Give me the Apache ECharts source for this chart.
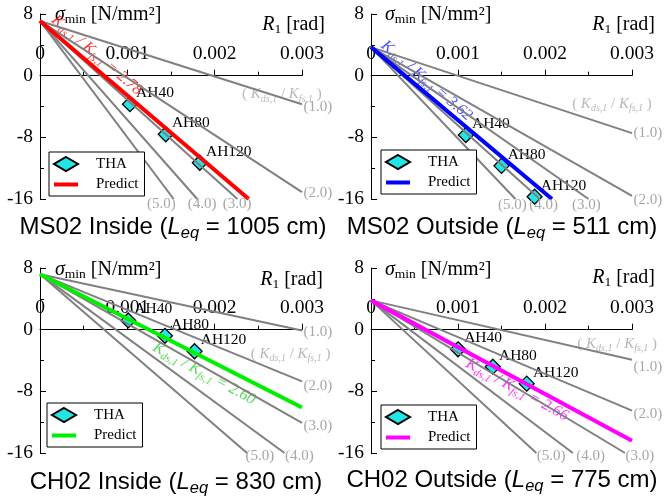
<!DOCTYPE html>
<html>
<head>
<meta charset="utf-8">
<script src="https://cdn.jsdelivr.net/npm/echarts@6/dist/echarts.min.js"></script>
<style>
  html, body { margin: 0; padding: 0; background: #fff; }
  #chart { width: 665px; height: 497px; }
</style>
</head>
<body>
<div id="chart"></div>
<script>
// ---- data ----
const panelNames = ['MS02 Inside', 'MS02 Outside', 'CH02 Inside', 'CH02 Outside']
const leqCm = [1005, 511, 830, 775]
const xTicks = [0, 0.001, 0.002, 0.003]
const yTicks = [-16, -8, 0, 8]

// stress at R1 = 0 for each panel
const sigmaStart = [7.1, 3.7, 7.2, 3.8]

// reference lines, Kds,1 / Kfs,1 = 1 .. 5, end points [R1, sigma]
const refRatios = ['1.0', '2.0', '3.0', '4.0', '5.0']
const refEnds = [
  [[0.003, -3.7], [0.003, -15.1], [0.00226, -16], [0.0018, -16], [0.00153, -16]],
  [[0.003, -7.45], [0.003, -15.6], [0.0025, -16], [0.00194, -16], [0.00166, -16]],
  [[0.003, -0.1], [0.003, -6.7], [0.003, -12.1], [0.0028, -16], [0.00237, -16]],
  [[0.003, -3.9], [0.003, -10.5], [0.00292, -16], [0.00232, -16], [0.0019, -16]]
]

// predicted line
const predictRatio = ['2.78', '3.62', '2.60', '2.66']
const predictEnd = [[0.00239, -16], [0.00208, -16], [0.003, -10.1], [0.003, -14.4]]

// THA results
const thaNames = ['AH40', 'AH80', 'AH120']
const thaR = [
  [0.00103, 0.00144, 0.00183],
  [0.00109, 0.0015, 0.00188],
  [0.00101, 0.00143, 0.00177],
  [0.001, 0.0014, 0.00179]
]
const thaSigma = [
  [-3.7, -7.6, -11.3],
  [-7.7, -11.7, -15.7],
  [1.2, -0.8, -2.8],
  [-2.55, -4.8, -7.0]
]

// ---- layout / style ----
const serif = '"Liberation Serif", "Times New Roman", serif'
const sans = '"Liberation Sans", Arial, sans-serif'
const grids = [
  { left: 40, top: 14, width: 262, height: 185 },
  { left: 371, top: 14, width: 261, height: 185 },
  { left: 40, top: 268, width: 262, height: 185 },
  { left: 371, top: 268, width: 261, height: 185 }
]
const predictColor = ['#ff0000', '#0000ff', '#00ee00', '#ff00ff']
const predictTextColor = ['#ff0000', '#2020ff', '#33cc33', '#ff00ff']
const legendPos = [[49, 152], [381, 150], [47, 403], [381, 405]]
// label offsets of the (x.x) tags from each line end
const refLabelOffset = [
  [[1, 3], [1, 1], [-15, 5], [-10, 5], [-27, 5]],
  [[1, 0], [1, 4], [-17, 6], [-11, 6], [-18, 6]],
  [[1, 2], [1, 5], [1, 3], [0, 3], [-2, 3]],
  [[1, 7], [1, 3], [0, 3], [3, 3], [0, 3]]
]
// where the rotated formula and the header tag sit (data coords)
const formulaAt = [[0.00065, 2.66], [0.00064, -0.65], [0.00188, -5.7], [0.00168, -7.8]]
const formulaRotate = [-40.6, -40.4, -28.5, -28.5]
const headerAt = [[0.00277, -2.44], [0.00277, -3.68], [0.00287, -3.1], [0.00283, -1.9]]
const titleAt = [[173, 227], [502, 227], [176, 482], [502, 480]]
const sigmaNameAt = [[55, 15], [385, 15], [55, 270], [385, 270]]
const rNameAt = [[325, 25], [655, 25], [323, 280], [655, 278]]

function kRich (size, sub, color) {
  return {
    n: { fontFamily: serif, fontSize: size, color, lineHeight: size + 4 },
    i: { fontFamily: serif, fontStyle: 'italic', fontSize: size, color, lineHeight: size + 4 },
    s: { fontFamily: serif, fontStyle: 'italic', fontSize: sub, color, lineHeight: sub, verticalAlign: 'bottom' }
  }
}

const option = {
  animation: false,
  backgroundColor: '#fff',
  grid: [],
  xAxis: [],
  yAxis: [],
  legend: [],
  series: [],
  graphic: []
}

const yMin = yTicks[0]
const yMax = yTicks[yTicks.length - 1]

for (let p = 0; p < 4; p++) {
  option.grid.push(Object.assign({ containLabel: false }, grids[p]))
  option.xAxis.push({
    gridIndex: p,
    type: 'value',
    min: xTicks[0],
    max: xTicks[xTicks.length - 1],
    interval: xTicks[1] - xTicks[0],
    // move the axis up to sigma = 0 so its labels follow it
    offset: -grids[p].height * (0 - yMin) / (yMax - yMin),
    axisLine: { onZero: false, lineStyle: { color: '#000', width: 1 } },
    axisTick: { inside: true, length: 6, lineStyle: { color: '#000' } },
    minorTick: { show: true, splitNumber: 2, length: 4, lineStyle: { color: '#000' } },
    axisLabel: {
      inside: true,
      margin: 12,
      fontFamily: serif,
      fontSize: 19.5,
      color: '#000',
      showMinLabel: true,
      showMaxLabel: true,
      formatter: v => v === 0 ? '0' : v.toFixed(3)
    },
    splitLine: { show: false }
  })
  option.yAxis.push({
    gridIndex: p,
    type: 'value',
    min: yMin,
    max: yMax,
    interval: yTicks[1] - yTicks[0],
    axisLine: { onZero: false, lineStyle: { color: '#000', width: 1 } },
    axisTick: { inside: true, length: 6, lineStyle: { color: '#000' } },
    minorTick: { show: true, splitNumber: 2, length: 4, lineStyle: { color: '#000' } },
    axisLabel: { margin: 7, fontFamily: serif, fontSize: 19.5, color: '#000' },
    splitLine: { show: false }
  })

  // gray reference lines
  refRatios.forEach((k, j) => {
    option.series.push({
      type: 'line',
      name: 'ref' + p + '_' + k,
      xAxisIndex: p,
      yAxisIndex: p,
      symbol: 'circle',
      symbolSize: 1,
      showSymbol: true,
      silent: true,
      itemStyle: { color: 'rgba(0,0,0,0)' },
      lineStyle: { color: '#808080', width: 2 },
      data: [
        [0, sigmaStart[p]],
        {
          value: refEnds[p][j],
          label: {
            show: true,
            position: 'right',
            distance: 0,
            offset: refLabelOffset[p][j],
            formatter: '(' + k + ')',
            fontFamily: serif,
            fontSize: 15,
            color: '#a6a6a6'
          }
        }
      ]
    })
  })

  // predict line
  option.series.push({
    type: 'line',
    name: 'Predict|' + p,
    xAxisIndex: p,
    yAxisIndex: p,
    symbol: 'none',
    silent: true,
    itemStyle: { color: predictColor[p] },
    lineStyle: { color: predictColor[p], width: 4 },
    data: [[0, sigmaStart[p]], predictEnd[p]]
  })

  // THA points
  option.series.push({
    type: 'scatter',
    name: 'THA|' + p,
    xAxisIndex: p,
    yAxisIndex: p,
    symbol: 'diamond',
    symbolSize: 15,
    silent: true,
    itemStyle: { color: '#22e6e6', borderColor: '#000', borderWidth: 1.3, opacity: 1 },
    label: {
      show: true,
      position: 'right',
      distance: 0,
      offset: [-2, -11],
      formatter: '{b}',
      fontFamily: serif,
      fontSize: 15.5,
      color: '#000'
    },
    data: thaR[p].map((x, i) => ({ value: [x, thaSigma[p][i]], name: thaNames[i] }))
  })

  // formula along the predict line and header tag
  option.series.push({
    type: 'scatter',
    name: 'note' + p,
    xAxisIndex: p,
    yAxisIndex: p,
    symbolSize: 1,
    silent: true,
    itemStyle: { color: 'rgba(0,0,0,0)' },
    data: [
      {
        value: formulaAt[p],
        label: {
          show: true,
          position: 'inside',
          rotate: formulaRotate[p],
          formatter: '{i|K}{s|ds,1}{i| / K}{s|fs,1}{i| = ' + predictRatio[p] + '}',
          rich: kRich(16, 11, predictTextColor[p])
        }
      },
      {
        value: headerAt[p],
        label: {
          show: true,
          position: 'inside',
          formatter: '{n|( }{i|K}{s|ds,1}{n| / }{i|K}{s|fs,1}{n| )}',
          rich: kRich(15, 10, '#a6a6a6')
        }
      }
    ]
  })

  option.legend.push({
    data: [
      { name: 'THA|' + p },
      { name: 'Predict|' + p, icon: 'path://M0,0 L24,0 L24,4 L0,4 Z' }
    ],
    formatter: n => n.split('|')[0],
    orient: 'vertical',
    left: legendPos[p][0],
    top: legendPos[p][1],
    padding: [4, 6, 4, 4],
    itemGap: 5,
    itemWidth: 24,
    itemHeight: 14,
    backgroundColor: '#fff',
    borderColor: '#000',
    borderWidth: 1,
    borderRadius: 0,
    selectedMode: false,
    textStyle: { fontFamily: serif, fontSize: 15, color: '#000', padding: [0, 0, 0, 13] }
  })

  // panel title and axis names
  option.graphic.push({
    type: 'text',
    x: titleAt[p][0],
    y: titleAt[p][1],
    silent: true,
    style: {
      text: '{t|' + panelNames[p] + ' (}{i|L}{s|eq}{t| = ' + leqCm[p] + ' cm)}',
      align: 'center',
      verticalAlign: 'middle',
      rich: {
        t: { fontFamily: sans, fontSize: 24, fill: '#000', lineHeight: 29 },
        i: { fontFamily: sans, fontStyle: 'italic', fontSize: 24, fill: '#000', lineHeight: 29 },
        s: { fontFamily: sans, fontStyle: 'italic', fontSize: 16.5, fill: '#000', lineHeight: 16, verticalAlign: 'bottom' }
      }
    }
  })
  option.graphic.push({
    type: 'text',
    x: sigmaNameAt[p][0],
    y: sigmaNameAt[p][1],
    silent: true,
    style: {
      text: '{i|σ}{s|min}{t| [N/mm²]}',
      align: 'left',
      verticalAlign: 'middle',
      rich: {
        t: { fontFamily: serif, fontSize: 20, fill: '#000', lineHeight: 23 },
        i: { fontFamily: serif, fontStyle: 'italic', fontSize: 20, fill: '#000', lineHeight: 23 },
        s: { fontFamily: serif, fontSize: 13.5, fill: '#000', lineHeight: 13, verticalAlign: 'bottom' }
      }
    }
  })
  option.graphic.push({
    type: 'text',
    x: rNameAt[p][0],
    y: rNameAt[p][1],
    silent: true,
    style: {
      text: '{i|R}{s|1}{t| [rad]}',
      align: 'right',
      verticalAlign: 'middle',
      rich: {
        t: { fontFamily: serif, fontSize: 20, fill: '#000', lineHeight: 23 },
        i: { fontFamily: serif, fontStyle: 'italic', fontSize: 20, fill: '#000', lineHeight: 23 },
        s: { fontFamily: serif, fontSize: 13.5, fill: '#000', lineHeight: 13, verticalAlign: 'bottom' }
      }
    }
  })
}

const chart = echarts.init(document.getElementById('chart'), null, { renderer: 'canvas' })
chart.setOption(option)
</script>
</body>
</html>
